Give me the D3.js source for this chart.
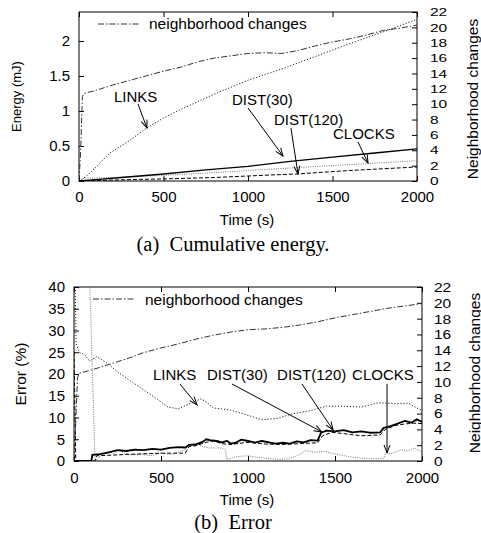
<!DOCTYPE html>
<html>
<head>
<meta charset="utf-8">
<script src="https://cdn.jsdelivr.net/npm/d3@7"></script>
<style>
  body { margin: 0; background: #fff; }
  svg { display: block; }
  text { font-family: "Liberation Sans", Arial, sans-serif; fill: #000; }
  .cap { font-family: "Liberation Serif", "Times New Roman", serif; }
</style>
</head>
<body>
<svg></svg>
<script>
const width = 481;
const height = 533;
const svg = d3.select("svg").attr("width", width).attr("height", height);

// tick values
const timeTicks = [0, 500, 1000, 1500, 2000];
const energyTicks = [0, 0.5, 1, 1.5, 2];
const errorTicks = [0, 5, 10, 15, 20, 25, 30, 35, 40];
const neighTicks = [0, 2, 4, 6, 8, 10, 12, 14, 16, 18, 20, 22];

// (a) cumulative energy, mJ  -- [time s, value]
const energyLinks = [[0,0],[50,0.08],[100,0.2],[183,0.4],[300,0.58],[402,0.76],[500,0.9],[600,1.02],[700,1.13],[800,1.24],[900,1.34],[1000,1.44],[1200,1.6],[1400,1.78],[1500,1.87],[1600,1.96],[1800,2.13],[2000,2.31]];
const energyDist30 = [[0,0],[100,0.02],[250,0.05],[500,0.1],[750,0.16],[1000,0.21],[1250,0.28],[1500,0.34],[1750,0.4],[2000,0.46]];
const energyDist120 = [[0,0],[300,0.02],[500,0.03],[800,0.05],[1136,0.086],[1290,0.1],[1600,0.15],[2000,0.2]];
const energyClocks = [[0,0],[30,0.04],[200,0.05],[500,0.08],[800,0.12],[1136,0.17],[1500,0.22],[2000,0.29]];
// neighborhood changes on the right axis
const energyNeigh = [[0,0],[10,4],[20,11],[30,11.4],[100,11.8],[200,12.5],[300,13.1],[400,13.7],[500,14.3],[600,14.8],[700,15.5],[800,16.0],[900,16.3],[1000,16.6],[1100,16.7],[1200,16.6],[1300,17.0],[1400,17.6],[1500,18.1],[1600,18.5],[1700,19.0],[1800,19.6],[1900,19.9],[2000,20.3]];

// (b) error, %
const errorLinks = [[0,60],[12,27],[30,25],[60,24.5],[90,23],[130,24],[190,22.5],[260,20.2],[340,18],[420,15.8],[480,14.2],[540,12.4],[600,12],[670,13.3],[730,14.3],[760,13.6],[800,12.2],[900,11.7],[1000,10.5],[1080,9.5],[1170,9.8],[1250,10.8],[1350,11.5],[1450,12.6],[1550,12.6],[1650,12.4],[1750,13.4],[1850,13.2],[1920,13.3],[1980,12],[2000,11.7]];
const errorDist30 = [[0,0],[100,0],[105,1.4],[150,1.6],[200,2.0],[250,2.5],[300,2.3],[350,2.6],[400,2.5],[450,2.8],[500,2.6],[550,3.0],[600,3.2],[640,3.1],[660,3.7],[700,3.8],[740,4.4],[760,5.0],[780,4.8],[820,4.6],[850,4.3],[880,4.6],[900,4.0],[930,4.2],[960,4.9],[1000,4.6],[1040,4.2],[1080,4.6],[1120,4.3],[1160,4.0],[1200,4.2],[1240,4.0],[1280,4.5],[1320,4.3],[1360,4.8],[1400,4.7],[1420,6.5],[1450,7.0],[1500,6.8],[1550,7.1],[1600,6.6],[1650,6.8],[1700,6.5],[1760,6.6],[1780,7.6],[1820,8.0],[1860,8.6],[1900,9.2],[1940,8.8],[1970,9.6],[2000,9.0]];
const errorDist120 = [[0,25],[10,0],[120,0],[130,1.2],[300,1.5],[500,1.8],[640,1.8],[660,3.3],[700,3.5],[760,4.3],[800,4.6],[850,4.0],[900,3.8],[1000,4.3],[1100,3.9],[1200,3.8],[1300,4.0],[1400,4.2],[1430,5.8],[1480,6.6],[1550,6.3],[1650,5.8],[1760,6.0],[1790,7.3],[1850,8.2],[1900,8.5],[1950,8.7],[2000,8.6]];
const errorClocks = [[90,42],[121,0],[140,0.8],[170,1.6],[200,2.3],[230,1.6],[260,2.6],[290,1.8],[330,1.4],[380,1.6],[440,1.2],[500,1.8],[560,1.5],[600,2.0],[640,2.6],[660,3.7],[700,4.0],[740,3.3],[780,3.0],[840,3.0],[870,2.6],[880,0.3],[930,1.0],[1000,1.2],[1060,0.8],[1100,0.6],[1180,0.4],[1230,0.5],[1270,1.0],[1300,1.6],[1330,2.4],[1380,2.0],[1440,2.2],[1480,1.8],[1530,1.4],[1580,1.0],[1630,0.7],[1700,0.6],[1760,0.5],[1780,0.6],[1790,1.6],[1830,1.8],[1880,2.6],[1920,2.3],[1960,3.0],[1990,2.2],[2000,1.9]];
const errorNeigh = [[0,0],[10,5],[20,10.5],[30,11.1],[100,11.5],[200,12.2],[300,12.9],[400,13.7],[500,14.3],[600,14.8],[700,15.4],[800,15.9],[900,16.3],[1000,16.6],[1100,16.7],[1200,16.9],[1300,17.2],[1400,17.6],[1500,18.1],[1600,18.5],[1700,18.9],[1800,19.3],[1900,19.6],[2000,19.9]];

// line styles
const styles = {
	neigh: { stroke: "#333", width: 1, dash: "6,2,1.5,2" },
	links: { stroke: "#222", width: 1, dash: "1.2,1.8" },
	dist30: { stroke: "#000", width: 1.3, dash: null },
	dist120: { stroke: "#000", width: 1, dash: "4,2" },
	clocks: { stroke: "#777", width: 1, dash: "1,1.3" }
};

svg.append("defs").append("marker")
	.attr("id", "head")
	.attr("viewBox", "-9 -4 10 8")
	.attr("refX", 0).attr("refY", 0)
	.attr("markerWidth", 10).attr("markerHeight", 8)
	.attr("markerUnits", "userSpaceOnUse")
	.attr("orient", "auto")
	.append("path")
	.attr("d", "M-8,-3 L0,0 L-8,3")
	.attr("fill", "none")
	.attr("stroke", "#000")
	.attr("stroke-width", 1);

function drawPanel(p) {
	const g = svg.append("g");
	const x = d3.scaleLinear().domain([0, 2000]).range([p.left, p.right]);
	const yL = d3.scaleLinear().domain(p.yDomain).range([p.bottom, p.top]);
	const yR = d3.scaleLinear().domain([0, 22]).range([p.bottom, p.top]);

	const clipId = "clip" + p.id;
	g.append("clipPath").attr("id", clipId)
	.append("rect")
	.attr("x", p.left).attr("y", p.top)
	.attr("width", p.right - p.left).attr("height", p.bottom - p.top);

	// axes, gnuplot style: ticks pointing inwards
	g.append("g").attr("transform", `translate(0,${p.bottom})`)
	.call(d3.axisBottom(x).tickValues(timeTicks).tickSize(-5).tickPadding(p.xPad).tickFormat(d3.format("d")));
	g.append("g").attr("transform", `translate(0,${p.top})`)
	.call(d3.axisTop(x).tickValues(timeTicks).tickSize(-5).tickFormat(""));
	g.append("g").attr("transform", `translate(${p.left},0)`)
	.call(d3.axisLeft(yL).tickValues(p.yTicks).tickSize(-5).tickPadding(9).tickFormat(d3.format("")));
	const ar = g.append("g").attr("transform", `translate(${p.right},0)`)
	.call(d3.axisRight(yR).tickValues(neighTicks).tickSize(-5).tickPadding(p.rPad));
	g.selectAll(".domain").remove();
	g.selectAll(".tick line").attr("stroke", "#000");
	g.selectAll(".tick text").style("font-size", "15px").style("font-family", "Liberation Sans, Arial, sans-serif");

	// right labels are squeezed vertically in the original
	ar.selectAll(".tick text")
	.style("font-size", "15.5px")
	.attr("y", 0)
	.attr("dy", null)
	.attr("dominant-baseline", "central")
	.attr("transform", `scale(1,${p.rSquash})`);

	g.append("rect")
	.attr("x", p.left).attr("y", p.top)
	.attr("width", p.right - p.left).attr("height", p.bottom - p.top)
	.attr("fill", "none").attr("stroke", "#000").attr("stroke-width", 1);

	// series
	const lines = g.append("g").attr("clip-path", `url(#${clipId})`);
	p.series.forEach(s => {
		const y = s.right ? yR : yL;
		const line = d3.line().x(d => x(d[0])).y(d => y(d[1]));
		lines.append("path")
		.attr("d", line(s.data))
		.attr("fill", "none")
		.attr("stroke", s.style.stroke)
		.attr("stroke-width", s.style.width * (p.thick && s.style === styles.dist30 ? 1.4 : 1))
		.attr("stroke-dasharray", s.style.dash)
		.attr("stroke-linejoin", "round");
	});

	// legend
	g.append("line")
	.attr("x1", p.left + p.legend[0]).attr("x2", p.left + p.legend[1])
	.attr("y1", p.top + p.legend[2]).attr("y2", p.top + p.legend[2])
	.attr("stroke", styles.neigh.stroke).attr("stroke-dasharray", styles.neigh.dash);
	g.append("text")
	.attr("x", p.left + p.legend[3]).attr("y", p.top + p.legend[4])
	.style("font-size", "15.5px")
	.text("neighborhood changes");

	// annotations
	p.notes.forEach(n => {
		g.append("text")
		.attr("x", x(n.text[0])).attr("y", yL(n.text[1]))
		.style("font-size", "15px")
		.text(n.label);
		g.append("line")
		.attr("x1", x(n.from[0])).attr("y1", yL(n.from[1]))
		.attr("x2", x(n.to[0])).attr("y2", yL(n.to[1]))
		.attr("stroke", "#000").attr("stroke-width", 1)
		.attr("marker-end", "url(#head)");
	});

	// axis titles
	g.append("text")
	.attr("transform", `translate(${p.yLabelX},${(p.top + p.bottom) / 2}) rotate(-90)`)
	.attr("text-anchor", "middle")
	.style("font-size", p.yLabelSize)
	.text(p.yLabel);
	g.append("text")
	.attr("transform", `translate(${p.rLabelX},${p.rLabelY}) rotate(-90)`)
	.attr("text-anchor", "middle")
	.style("font-size", "15.5px")
	.text("Neighborhood changes");
	g.append("text")
	.attr("x", (p.left + p.right) / 2 - 1).attr("y", p.titleY)
	.attr("text-anchor", "middle")
	.style("font-size", "15px")
	.text("Time (s)");
	g.append("text")
	.attr("class", "cap")
	.attr("x", 233).attr("y", p.capY)
	.attr("text-anchor", "middle")
	.attr("xml:space", "preserve")
	.style("font-size", "20.5px")
	.style("white-space", "pre")
	.text(p.caption);
}

drawPanel({
	id: "a", left: 79, right: 417, top: 12, bottom: 181,
	yDomain: [0, 2.414], yTicks: energyTicks, xPad: 10, rPad: 13, rSquash: 0.72,
	yLabel: "Energy (mJ)", yLabelX: 21, yLabelSize: "13px",
	rLabelX: 477.5, rLabelY: 99,
	titleY: 225, capY: 250.5, caption: "(a)  Cumulative energy.",
	legend: [19, 61, 12, 70, 17],
	series: [
		{ data: energyNeigh, style: styles.neigh, right: true },
		{ data: energyLinks, style: styles.links },
		{ data: energyClocks, style: styles.clocks },
		{ data: energyDist120, style: styles.dist120 },
		{ data: energyDist30, style: styles.dist30 }
	],
	notes: [
		{ label: "LINKS", text: [207, 1.13], from: [349, 1.1], to: [402, 0.757] },
		{ label: "DIST(30)", text: [905, 1.086], from: [1000, 1.043], to: [1207, 0.357] },
		{ label: "DIST(120)", text: [1154, 0.8], from: [1254, 0.757], to: [1296, 0.1] },
		{ label: "CLOCKS", text: [1503, 0.6], from: [1651, 0.557], to: [1710, 0.257] }
	]
});

drawPanel({
	id: "b", left: 74, right: 422, top: 287, bottom: 461, thick: true,
	yDomain: [0, 40], yTicks: errorTicks, xPad: 11, rPad: 12, rSquash: 0.8,
	yLabel: "Error (%)", yLabelX: 26, yLabelSize: "15.5px",
	rLabelX: 479.5, rLabelY: 373,
	titleY: 505, capY: 529, caption: "(b)  Error",
	legend: [19, 61, 12, 71, 18],
	series: [
		{ data: errorNeigh, style: styles.neigh, right: true },
		{ data: errorLinks, style: styles.links },
		{ data: errorClocks, style: styles.clocks },
		{ data: errorDist120, style: styles.dist120 },
		{ data: errorDist30, style: styles.dist30 }
	],
	notes: [
		{ label: "LINKS", text: [454, 18.6], from: [609, 17.7], to: [707, 12.9] },
		{ label: "DIST(30)", text: [764, 18.6], from: [908, 17.7], to: [1425, 6.67] },
		{ label: "DIST(120)", text: [1167, 18.6], from: [1310, 17.7], to: [1489, 7.13] },
		{ label: "CLOCKS", text: [1598, 18.6], from: [1799, 17.7], to: [1799, 1.84] }
	]
});
</script>
</body>
</html>
